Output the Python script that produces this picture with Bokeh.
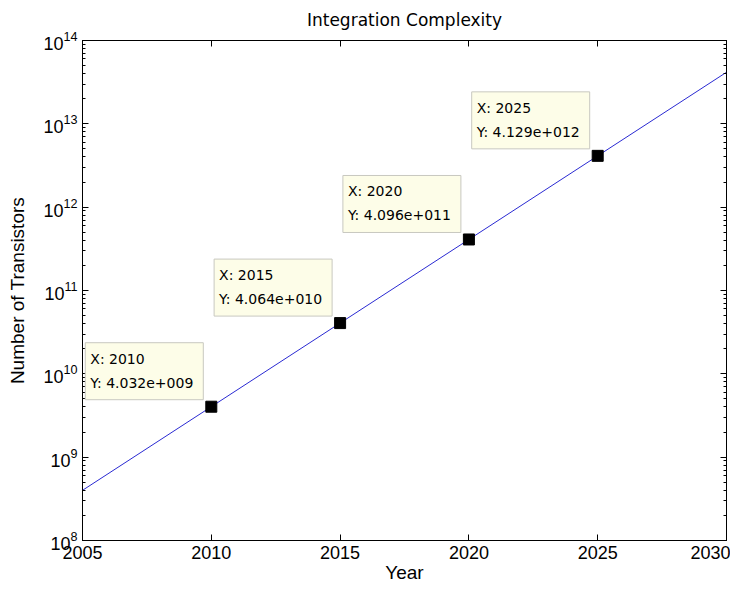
from bokeh.plotting import figure
from bokeh.models import LinearAxis, LogAxis, LogTicker, FixedTicker, Label, CustomJSTickFormatter
from bokeh.embed import file_html
from bokeh.resources import INLINE

# ---- data ----
years = [2005, 2010, 2015, 2020, 2025, 2030]
transistors = [4.0e8, 4.032e9, 4.064e10, 4.096e11, 4.129e12, 4.16e13]
tip_years = [2010, 2015, 2020, 2025]
tip_values = [4.032e9, 4.064e10, 4.096e11, 4.129e12]
x_ticks = [2005, 2010, 2015, 2020, 2025, 2030]
y_limits = (1e8, 1e14)
title_text = "Integration Complexity"
x_label = "Year"
y_label = "Number of Transistors"


def matlab_exp(v):
    m, e = f"{v:.3e}".split("e")
    return f"{m}e{e[0]}{e[1:].zfill(3)}"


p = figure(width=730, height=585, x_range=(x_ticks[0], x_ticks[-1]), y_range=y_limits,
           y_axis_type="log", output_backend="svg", toolbar_location=None,
           min_border_left=82, min_border_right=4, min_border_top=38,
           min_border_bottom=39, title=title_text)
p.background_fill_color = "white"
p.border_fill_color = "white"
p.outline_line_color = "black"
p.xgrid.visible = False
p.ygrid.visible = False

p.title.align = "center"
p.title.vertical_align = "top"
p.title.text_font = "DejaVu Sans"
p.title.text_font_size = "17px"
p.title.text_font_style = "normal"
p.title.text_color = "black"
p.title.text_line_height = 0.8
p.title.standoff = 18


def style(ax, minor):
    ax.axis_line_color = "black"
    ax.axis_line_width = 1
    ax.major_tick_in = 6
    ax.major_tick_out = 0
    ax.major_tick_line_color = "black"
    if minor:
        ax.minor_tick_in = 3
        ax.minor_tick_out = 0
        ax.minor_tick_line_color = "black"
    else:
        ax.minor_tick_line_color = None
    ax.major_label_text_font = "Liberation Sans"
    ax.major_label_text_font_size = "18px"
    ax.major_label_text_color = "black"
    ax.axis_label_text_font = "Liberation Sans"
    ax.axis_label_text_font_size = "19px"
    ax.axis_label_text_font_style = "normal"
    ax.axis_label_text_color = "black"


xa = p.below[0]
ya = p.left[0]
xa.ticker = FixedTicker(ticks=x_ticks)
ya.ticker = LogTicker(num_minor_ticks=10)
style(xa, False)
style(ya, True)
xa.axis_label = x_label
ya.axis_label = y_label
xa.major_label_standoff = 5
xa.axis_label_standoff = 0
ya.major_label_standoff = 5
ya.axis_label_standoff = 12

top = LinearAxis(ticker=FixedTicker(ticks=x_ticks),
                 formatter=CustomJSTickFormatter(code="return ''"))
right = LogAxis(ticker=LogTicker(num_minor_ticks=10),
                formatter=CustomJSTickFormatter(code="return ''"))
for ax, minor in ((top, False), (right, True)):
    style(ax, minor)
    ax.major_label_text_font_size = "1px"
    ax.major_label_standoff = 0
p.add_layout(top, "above")
p.add_layout(right, "right")

p.line(years, transistors, line_color="#2a2ad2", line_width=1)
p.scatter(tip_years, tip_values, marker="square", size=11,
          fill_color="black", line_color="black")

for x, v in zip(tip_years, tip_values):
    lab = Label(x=x, y=v, x_offset=-8, y_offset=7, anchor="bottom_right",
                text=f"X: {x}\nY: {matlab_exp(v)}",
                text_font="DejaVu Sans", text_font_size="14px",
                text_color="black", text_align="left", text_line_height=1.5,
                background_fill_color="#fdfde8", border_line_color="#c8c8c0",
                border_line_width=1,
                padding=dict(left=5, right=10, top=8, bottom=9))
    p.add_layout(lab)

open("out.html", "w").write(file_html(p, INLINE))
